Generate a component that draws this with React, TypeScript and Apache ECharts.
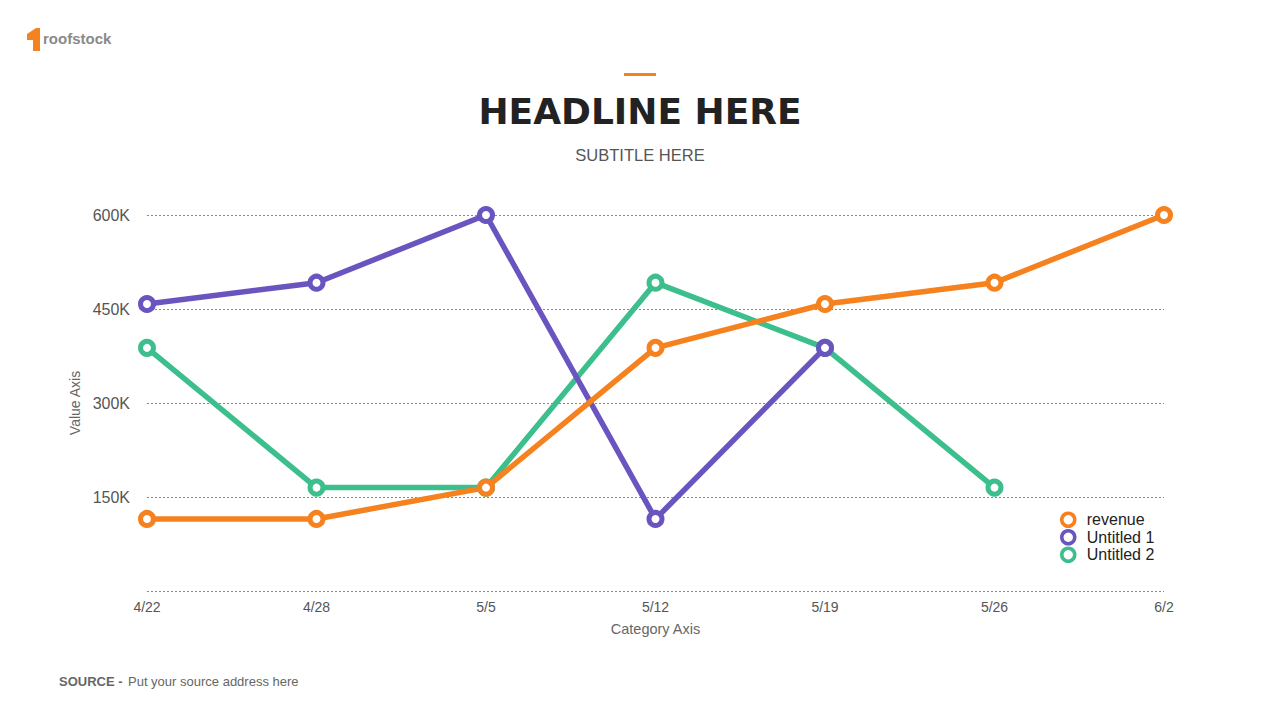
import React, { useEffect, useRef } from "react";
import * as echarts from "echarts";

const categories = ["4/22", "4/28", "5/5", "5/12", "5/19", "5/26", "6/2"];
const revenue = [115000, 115000, 165000, 388000, 458000, 492000, 600000];
const untitled1: (number | null)[] = [458000, 492000, 600000, 115000, 388000, null, null];
const untitled2: (number | null)[] = [388000, 165000, 165000, 492000, 388000, 165000, null];
const seriesNames = ["revenue", "Untitled 1", "Untitled 2"];
const colors = ["#F5821F", "#6A55C0", "#3CBF8C"];

const FONT = "'Liberation Sans', Arial, Helvetica, sans-serif";

export default function App() {
  const ref = useRef<HTMLDivElement>(null);
  useEffect(() => {
    if (!ref.current) return;
    const chart = echarts.init(ref.current, undefined, { renderer: "svg" });
    const datasets = [revenue, untitled1, untitled2];
    chart.setOption({
      animation: false,
      backgroundColor: "#ffffff",
      textStyle: { fontFamily: FONT },
      grid: { left: 147, right: 116, top: 215, bottom: 129, containLabel: false },
      legend: {
        orient: "vertical",
        left: 1055,
        top: 506,
        icon: "circle",
        itemWidth: 13,
        itemHeight: 13,
        itemGap: 0,
        data: seriesNames.map((n, i) => ({
          name: n,
          itemStyle: { color: "#fff", borderColor: colors[i], borderWidth: 3.5 },
        })),
        textStyle: { fontSize: 16, lineHeight: 17.5, color: "#222", fontFamily: FONT, padding: [0, 0, 0, 7] },
      },
      xAxis: {
        type: "category",
        data: categories,
        boundaryGap: false,
        axisLine: { show: false },
        axisTick: { show: false },
        axisLabel: { color: "#555", fontSize: 14, margin: 9, fontFamily: FONT },
        name: "Category Axis",
        nameLocation: "middle",
        nameGap: 30,
        nameTextStyle: { color: "#666", fontSize: 14.5, fontFamily: FONT },
      },
      yAxis: {
        type: "value",
        min: 0,
        max: 600000,
        interval: 150000,
        axisLine: { show: false },
        axisTick: { show: false },
        axisLabel: {
          color: "#555",
          fontSize: 16,
          margin: 17,
          fontFamily: FONT,
          formatter: (v: number) => (v === 0 ? "" : v / 1000 + "K"),
        },
        splitLine: { lineStyle: { color: "#888", type: [2, 2], width: 1 } },
        name: "Value Axis",
        nameLocation: "middle",
        nameGap: 64,
        nameTextStyle: { color: "#666", fontSize: 14, fontFamily: FONT },
      },
      series: seriesNames.map((n, i) => ({
        name: n,
        type: "line",
        data: datasets[i],
        symbol: "circle",
        symbolSize: 13,
        lineStyle: { width: 5.5, color: colors[i] },
        itemStyle: { color: "#fff", borderColor: colors[i], borderWidth: 5 },
        z: 3 - i,
      })),
      graphic: [
        { type: "polygon", shape: { points: [[27, 34], [36, 28], [40, 28], [40, 51], [33, 51], [33, 40], [27, 40]] }, style: { fill: "#F5821F" } },
        { type: "text", left: 43, top: 31, style: { text: "roofstock", font: `bold 15px ${FONT}`, fill: "#8a8a8a" } },
        { type: "rect", shape: { x: 624, y: 73, width: 32, height: 3 }, style: { fill: "#F5821F" } },
        { type: "text", x: 640, y: 111, style: { text: "HEADLINE HERE", font: `bold 36px 'DejaVu Sans', ${FONT}`, fill: "#222", align: "center", verticalAlign: "middle" } },
        { type: "text", x: 640, y: 155, style: { text: "SUBTITLE HERE", font: `16.5px ${FONT}`, fill: "#555", align: "center", verticalAlign: "middle" } },
        { type: "text", x: 59, y: 681, style: { text: "SOURCE -", font: `bold 13px ${FONT}`, fill: "#666", verticalAlign: "middle" } },
        { type: "text", x: 128, y: 681, style: { text: "Put your source address here", font: `13px ${FONT}`, fill: "#666", verticalAlign: "middle" } },
      ],
    });
    return () => chart.dispose();
  }, []);
  return <div ref={ref} style={{ position: "fixed", left: 0, top: 0, width: 1280, height: 720 }} />;
}
